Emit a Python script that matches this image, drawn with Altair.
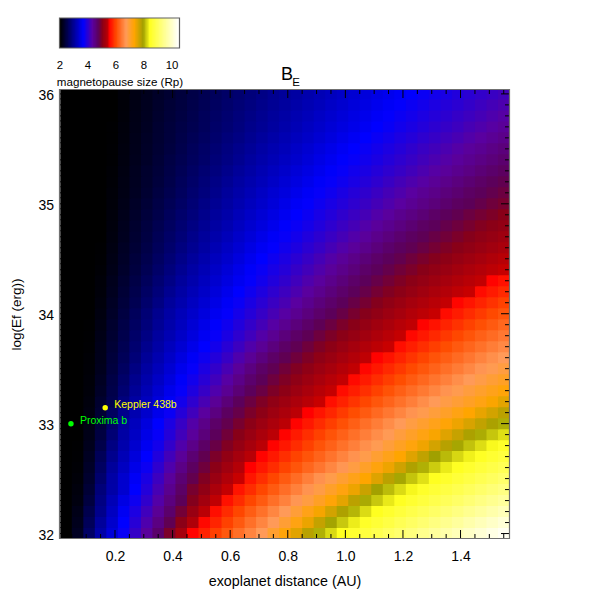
import altair as alt
import pandas as pd

FONT = "Liberation Sans"

x_centers = [.03,.07,.11,.15,.19,.23,.27,.31,.35,.39,.43,.47,.51,.55,.59,.63,.67,.71,.75,.79,.83,.87,.91,.95,.99,1.03,1.07,1.11,1.15,1.19,1.23,1.27,1.31,1.35,1.39,1.43,1.47,1.51,1.55]
y_centers = [32.0,32.1,32.2,32.3,32.4,32.5,32.6,32.7,32.8,32.9,33.0,33.1,33.2,33.3,33.4,33.5,33.6,33.7,33.8,33.9,34.0,34.1,34.2,34.3,34.4,34.5,34.6,34.7,34.8,34.9,35.0,35.1,35.2,35.3,35.4,35.5,35.6,35.7,35.8,35.9,36.0]

# magnetopause size x 100, one list per log(Ef) row
r320 = [200,222,265,308,340,372,403,433,463,493,523,552,572,592,611,631,650,670,697,723,750,777,801,821,840,854,868,883,897,911,925,939,953,966,979,993,1006,1020,1033]
r321 = [200,218,257,300,332,365,393,421,449,477,503,530,555,574,593,612,632,651,670,694,718,743,769,795,813,831,847,860,873,887,900,913,927,940,953,967,980,993,1007]
r322 = [200,215,250,290,325,357,385,411,437,463,488,513,538,559,578,596,615,633,652,670,692,714,736,760,784,804,822,840,853,865,878,890,903,915,928,941,953,966,979]
r323 = [200,210,241,284,318,347,375,400,425,451,475,498,520,542,561,578,596,613,631,648,666,685,705,725,748,775,798,813,829,843,855,867,880,892,904,916,929,941,953]
r324 = [200,208,235,278,308,334,365,390,416,441,467,491,506,526,545,563,579,596,613,630,647,664,682,702,720,742,766,791,807,822,836,849,860,872,883,895,906,918,929]
r325 = [200,205,230,270,307,333,359,384,408,433,458,479,496,513,531,548,564,580,596,613,629,646,662,679,696,713,730,752,775,796,811,825,840,851,863,874,885,896,908]
r326 = [200,203,226,263,300,325,350,374,398,422,446,470,486,502,518,534,550,565,579,594,608,623,637,652,666,684,702,721,741,762,783,801,815,830,843,854,865,876,887]
r327 = [200,202,222,256,291,318,342,365,388,412,435,459,478,493,508,522,537,552,566,580,594,607,621,635,649,663,679,696,713,730,751,772,793,806,820,833,845,856,867]
r328 = [200,201,218,248,284,311,334,356,379,401,423,445,467,482,496,510,524,538,552,565,579,592,606,619,633,646,660,674,690,706,722,740,759,778,796,810,823,837,848]
r329 = [200,200,215,242,275,306,327,349,370,391,412,433,454,473,487,500,513,526,539,552,567,580,593,606,619,632,645,658,672,688,703,718,734,751,768,785,799,812,824]
r330 = [200,200,212,237,267,300,322,343,365,385,405,425,445,465,479,491,503,515,527,539,552,565,578,591,604,617,631,644,657,670,684,698,712,726,741,756,771,786,800]
r331 = [200,200,210,233,261,290,313,332,352,372,392,411,431,450,470,481,493,504,516,527,539,550,563,575,588,601,613,626,639,651,664,677,690,703,717,730,745,760,775]
r332 = [200,200,208,230,251,281,305,323,342,360,379,398,417,436,455,473,484,495,506,516,527,537,548,560,572,584,596,609,621,633,645,658,670,682,693,705,717,733,748]
r333 = [200,200,206,225,248,273,297,316,334,352,369,387,404,422,439,457,473,483,494,504,515,525,536,546,558,569,581,593,605,617,629,640,652,664,676,688,700,712,724]
r334 = [200,200,205,222,245,268,291,310,327,343,361,378,394,411,428,445,462,475,485,495,505,515,525,535,545,556,567,579,590,601,613,624,636,647,659,670,681,693,704]
r335 = [200,200,204,219,241,262,284,304,320,336,353,369,385,401,417,434,450,466,477,487,496,505,515,524,534,544,554,565,576,587,598,609,620,631,642,653,665,675,686]
r336 = [200,200,203,217,238,257,277,298,313,329,344,359,375,390,405,421,436,451,466,477,486,495,505,514,523,532,542,551,562,573,584,595,606,616,627,638,649,660,670]
r337 = [200,200,202,216,235,253,272,291,307,322,336,351,365,379,394,408,423,437,452,466,477,486,495,504,513,522,531,540,549,559,570,580,591,601,612,622,633,644,654]
r338 = [200,200,201,214,232,249,267,285,302,315,329,343,357,370,384,398,411,425,439,453,466,476,485,494,502,511,519,528,537,546,555,566,576,587,597,607,618,628,639]
r339 = [200,200,201,212,230,246,263,279,296,310,323,337,350,363,376,389,402,414,427,440,453,465,476,484,493,501,509,518,526,535,543,552,562,573,583,593,603,613,624]
r340 = [200,200,200,210,226,242,259,275,292,306,319,331,343,356,368,380,392,404,416,428,440,452,464,474,482,491,499,507,515,523,532,540,548,558,568,578,588,598,608]
r341 = [200,200,200,208,223,238,253,269,284,300,312,324,336,348,360,372,384,395,407,418,430,441,453,464,474,482,490,498,506,514,522,529,537,545,553,563,573,583,593]
r342 = [200,200,200,206,220,235,249,264,278,293,306,318,329,341,353,365,376,387,398,409,420,431,442,453,464,474,481,489,496,503,511,518,526,533,541,548,557,567,577]
r343 = [200,200,200,205,218,232,245,259,273,286,300,311,323,334,345,356,368,378,389,400,411,422,432,443,454,465,474,481,488,495,502,509,516,523,530,537,544,552,561]
r344 = [200,200,200,203,215,228,241,254,267,280,294,306,317,328,339,350,361,372,382,392,403,413,423,434,444,454,465,473,480,487,493,500,507,513,520,527,533,540,547]
r345 = [200,200,200,202,213,225,238,250,263,275,288,300,311,322,332,343,354,365,375,385,395,405,415,425,435,445,455,465,473,479,486,492,498,504,511,517,523,530,536]
r346 = [200,200,200,201,211,223,234,246,258,270,282,294,305,316,326,336,347,357,367,377,386,396,405,415,424,434,443,453,463,471,477,483,489,495,501,507,513,519,525]
r347 = [200,200,200,200,209,220,232,243,255,266,277,289,300,310,320,330,340,350,360,370,379,388,397,406,415,424,433,443,452,461,470,476,482,487,493,499,505,511,517]
r348 = [200,200,200,200,208,219,230,241,252,262,273,284,295,305,314,324,334,343,353,363,372,380,389,398,407,415,424,433,441,450,459,468,474,480,485,491,497,502,508]
r349 = [200,200,200,200,207,217,227,238,248,259,269,279,290,300,309,319,328,337,346,356,365,373,382,390,399,407,415,424,432,441,449,457,466,473,478,484,489,494,500]
r350 = [200,200,200,200,206,215,225,235,245,255,265,275,286,295,304,313,322,331,340,350,359,367,375,383,390,398,406,414,422,430,438,446,454,462,470,475,480,486,491]
r351 = [200,200,200,200,205,213,222,232,242,251,261,271,280,290,300,309,317,326,335,343,352,360,369,376,384,392,399,407,415,422,430,438,445,453,460,468,474,479,484]
r352 = [200,200,200,200,204,212,221,230,239,248,258,267,277,286,295,304,312,320,328,337,345,353,361,369,376,383,391,398,406,414,421,428,436,444,451,459,466,473,478]
r353 = [200,200,200,200,203,211,220,229,237,246,255,264,273,281,290,299,307,315,323,331,339,346,354,362,370,377,384,391,398,405,412,420,427,434,441,448,456,463,470]
r354 = [200,200,200,200,202,210,218,226,235,244,252,260,268,277,285,293,302,310,317,325,332,340,348,355,363,370,377,384,391,398,405,412,419,426,433,440,447,454,461]
r355 = [200,200,200,200,202,209,217,225,233,241,249,258,266,274,282,290,298,306,313,320,328,335,343,350,358,365,372,379,385,392,399,406,412,419,426,433,439,446,453]
r356 = [200,200,200,200,201,208,216,224,232,239,247,255,262,270,278,285,293,301,308,315,322,329,336,343,351,358,365,372,378,385,391,398,404,411,417,424,430,437,444]
r357 = [200,200,200,200,201,207,215,222,231,238,245,252,259,267,274,281,289,296,303,310,317,324,331,338,344,351,358,365,371,378,384,390,397,403,409,416,422,428,435]
r358 = [200,200,200,200,200,206,214,221,229,236,243,250,258,265,272,279,286,293,300,307,314,320,327,333,340,347,353,360,367,373,379,385,391,397,403,409,415,421,427]
r359 = [200,200,200,200,200,205,213,220,228,235,241,248,255,262,269,276,282,289,296,302,309,315,321,328,334,341,347,354,360,367,373,379,385,391,396,402,408,414,420]
r360 = [200,200,200,200,200,205,212,219,226,232,239,246,253,259,266,272,279,286,293,299,305,311,317,323,329,336,342,348,354,360,366,372,378,383,389,395,401,406,412]

rows = [r320,r321,r322,r323,r324,r325,r326,r327,r328,r329,r330,r331,r332,r333,r334,r335,r336,r337,r338,r339,
        r340,r341,r342,r343,r344,r345,r346,r347,r348,r349,r350,r351,r352,r353,r354,r355,r356,r357,r358,r359,r360]

bar_values = [v / 10 for v in range(20, 106)]
bar_ticks = [2, 4, 6, 8, 10]

planet_names = ["Proxima b", "Keppler 438b"]
planet_x = [0.047, 0.166]
planet_y = [33.0, 33.145]
planet_colors = ["#00ff00", "#ffff00"]

x_major = [0.2, 0.4, 0.6, 0.8, 1.0, 1.2, 1.4]
x_minor = [0.05, 0.1, 0.15, 0.25, 0.3, 0.35, 0.45, 0.5, 0.55, 0.65, 0.7, 0.75, 0.85, 0.9, 0.95, 1.05, 1.1, 1.15, 1.25, 1.3, 1.35, 1.45, 1.5, 1.55]
y_major = [32, 33, 34, 35, 36]
y_minor = [32.1,32.2,32.3,32.4,32.5,32.6,32.7,32.8,32.9,33.1,33.2,33.3,33.4,33.5,33.6,33.7,33.8,33.9,34.1,34.2,34.3,34.4,34.5,34.6,34.7,34.8,34.9,35.1,35.2,35.3,35.4,35.5,35.6,35.7,35.8,35.9]

stop_values = [2.0, 3.65, 4.3, 4.75, 5.0, 5.49, 5.5, 6.0, 6.7, 7.3, 7.93, 8.4, 9.2, 10.45]
stop_colors = ["#000000", "#0000ff", "#5a00a0", "#5c0058", "#880018", "#c80000", "#ff0000", "#ff4c00",
               "#ff9a58", "#ffa500", "#a0a000", "#ffff20", "#ffff78", "#ffffff"]

W, H = 450, 449
color_scale = alt.Scale(domain=stop_values, range=stop_colors, clamp=True, interpolate="rgb")

# each cell reaches a little under its right and upper neighbours, so no seams show
cells = pd.DataFrame(
    [{"x0": x - 0.02, "x1": x + 0.025, "y0": y - 0.05, "y1": y + 0.06, "v": v / 100}
     for y, row in zip(y_centers, rows) for x, v in zip(x_centers, row)]
)

x_scale = alt.Scale(domain=[0.0073, 1.57], nice=False, zero=False)
y_scale = alt.Scale(domain=[31.955, 36.04], nice=False, zero=False)

x_axis = alt.Axis(values=x_major, format=".1f", title="exoplanet distance (AU)", grid=False, ticks=False,
                  domain=False, labelFont=FONT, labelFontSize=14, labelColor="#000", labelPadding=11,
                  titleFont=FONT, titleFontSize=14.3, titleFontWeight="normal", titleColor="#000", titlePadding=11)
y_axis = alt.Axis(values=y_major, format="d", title="log(Ef (erg))", grid=False, ticks=False,
                  domain=False, labelFont=FONT, labelFontSize=14, labelColor="#000", labelPadding=6, labelOffset=1.5,
                  titleFont=FONT, titleFontSize=13.5, titleFontWeight="normal", titleColor="#000", titlePadding=14)

heat = alt.Chart(cells).mark_rect(clip=True).encode(
    x=alt.X("x0:Q", scale=x_scale, axis=x_axis),
    x2="x1:Q",
    y=alt.Y("y0:Q", scale=y_scale, axis=y_axis),
    y2="y1:Q",
    color=alt.Color("v:Q", scale=color_scale, legend=None),
)


def x_ticks(values, top, bottom):
    return alt.Chart(pd.DataFrame({"t": values})).mark_rule(color="#000", strokeWidth=1).encode(
        x=alt.X("t:Q", scale=x_scale, axis=x_axis), y=alt.value(top), y2=alt.value(bottom))


def y_ticks(values, left, right):
    return alt.Chart(pd.DataFrame({"t": values})).mark_rule(color="#000", strokeWidth=1).encode(
        y=alt.Y("t:Q", scale=y_scale, axis=y_axis), x=alt.value(left), x2=alt.value(right))


ticks = [
    x_ticks(x_major, H - 8.5, H), x_ticks(x_minor, H - 4.5, H),
    x_ticks(x_major, 0, 8.5), x_ticks(x_minor, 0, 4.5),
    y_ticks(y_major, W - 8.5, W), y_ticks(y_minor, W - 4.5, W),
    y_ticks(y_major, 0, 8.5), y_ticks(y_minor, 0, 4.5),
]

frame = alt.Chart(pd.DataFrame({"a": [0]})).mark_rect(fill=None, stroke="#707070", strokeWidth=1.2).encode(
    x=alt.value(0), x2=alt.value(W), y=alt.value(0), y2=alt.value(H))

planets = pd.DataFrame({"name": planet_names, "x": planet_x, "y": planet_y, "c": planet_colors})
dots = alt.Chart(planets).mark_circle(size=30, opacity=1).encode(
    x=alt.X("x:Q", scale=x_scale, axis=x_axis),
    y=alt.Y("y:Q", scale=y_scale, axis=y_axis),
    color=alt.Color("c:N", scale=None, legend=None),
)
labels = alt.Chart(planets).mark_text(align="left", baseline="middle", dx=9, dy=-3, font=FONT, fontSize=10.5).encode(
    x=alt.X("x:Q", scale=x_scale, axis=x_axis),
    y=alt.Y("y:Q", scale=y_scale, axis=y_axis),
    text="name:N",
    color=alt.Color("c:N", scale=None, legend=None),
)

title_b = alt.Chart(pd.DataFrame({"s": ["B"]})).mark_text(
    align="left", baseline="alphabetic", font=FONT, fontSize=18, color="#000", clip=False
).encode(x=alt.value(221.5), y=alt.value(-9.2), text="s:N")
title_e = alt.Chart(pd.DataFrame({"s": ["E"]})).mark_text(
    align="left", baseline="alphabetic", font=FONT, fontSize=11.5, color="#000", clip=False
).encode(x=alt.value(232.8), y=alt.value(-3.5), text="s:N")

main = alt.layer(heat, *ticks, frame, dots, labels, title_b, title_e).resolve_scale(
    color="independent"
).properties(width=W, height=H)

bar_df = pd.DataFrame({"v": bar_values, "v2": [v + 0.2 for v in bar_values]})
bar_scale = alt.Scale(domain=[2, 10.57], nice=False, zero=False)
bar = alt.Chart(bar_df).mark_rect(clip=True).encode(
    x=alt.X("v:Q", scale=bar_scale, axis=alt.Axis(
        values=bar_ticks, format="d", title="magnetopause size (Rp)", grid=False, ticks=False, domain=False,
        labelFlush=False,
        labelFont=FONT, labelFontSize=11.4, labelColor="#000", labelPadding=11,
        titleFont=FONT, titleFontSize=11.6, titleFontWeight="normal", titleColor="#000", titlePadding=6)),
    x2="v2:Q",
    y=alt.value(0),
    y2=alt.value(30),
    color=alt.Color("v:Q", scale=color_scale, legend=None),
)
bar_frame = alt.Chart(pd.DataFrame({"a": [0]})).mark_rect(fill=None, stroke="#606060", strokeWidth=1.2).encode(
    x=alt.value(0), x2=alt.value(120), y=alt.value(0), y2=alt.value(30))
colorbar = alt.layer(bar, bar_frame).properties(width=120, height=30)

chart = alt.vconcat(colorbar, main, spacing=41.5, bounds="flush").configure_view(stroke=None).properties(
    padding={"left": 1.5, "top": 9, "right": 5, "bottom": 5}, background="white"
)
chart.save("out.html", embed_options={"renderer": "svg", "actions": False})
